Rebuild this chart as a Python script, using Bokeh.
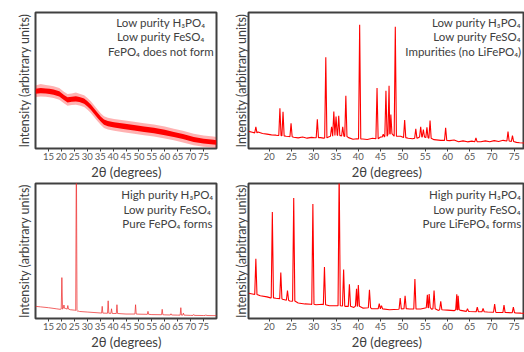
from bokeh.plotting import figure
from bokeh.layouts import column, row
from bokeh.models import FixedTicker, Label, Range1d
from bokeh.embed import file_html
from bokeh.resources import INLINE

# ---------------- data (2-theta in degrees, intensity in arbitrary units 0-100) ----------------
# Panel A: low purity H3PO4 + low purity FeSO4 -> amorphous (noise band)
a_x = [10, 12, 14, 15.4, 17, 19.2, 21, 22.4, 24, 25.6, 27, 28.8, 30, 31.4, 32.5, 34, 35.3,
       36.5, 38, 40.4, 44, 48.1, 52, 55.8, 60, 63.5, 67, 71.2, 75, 78.8, 80]
a_core_hi = [44.0, 44.4, 44.2, 43.9, 43.4, 42.1, 39.4, 37.7, 38.1, 38.4, 37.9, 36.7, 34.9, 32.3,
             29.7, 26.2, 23.4, 21.3, 20.2, 19.3, 18.3, 17.2, 16.2, 15.2, 13.8, 12.2, 10.7, 8.4,
             7.2, 6.4, 6.1]
a_core_lo = [40.2, 40.6, 40.4, 40.1, 39.6, 38.3, 35.6, 33.9, 34.3, 34.6, 34.1, 32.9, 31.1, 28.5,
             25.9, 22.4, 19.6, 17.5, 16.4, 15.5, 14.3, 13.2, 12.2, 11.2, 9.8, 8.4, 6.9, 4.8,
             3.6, 3.0, 2.7]
a_fringe_hi = [46.4, 47.5, 46.6, 46.3, 45.8, 44.5, 41.8, 40.1, 40.5, 41.2, 40.3, 39.1, 37.3, 34.7,
               32.1, 28.6, 25.8, 23.7, 22.6, 21.7, 20.7, 19.6, 18.6, 17.6, 16.2, 14.6, 13.1, 10.8,
               9.6, 8.8, 8.5]
a_fringe_lo = [37.8, 38.2, 38.0, 37.7, 37.2, 35.9, 33.2, 31.5, 31.9, 32.2, 31.7, 30.5, 28.7, 26.1,
               23.5, 20.0, 17.2, 15.1, 14.0, 13.1, 11.9, 10.8, 9.8, 8.8, 7.4, 6.0, 4.5, 2.4,
               1.2, 0.8, 0.6]

# Panel B: low purity H3PO4 + low purity FeSO4 -> impurities
b_base_x = [15.4, 16.2, 17.5, 18.5, 19.5, 20.5, 21.5, 22.0, 23.8, 24.5, 25.5, 26.5, 27.5, 28.5,
            29.5, 30.2, 31.5, 32.2, 33.3, 36.0, 37.8, 38.8, 39.7, 41.0, 42.0, 43.2, 45.0, 49.5,
            51.2, 52.2, 53.5, 57.0, 58.5, 60.5, 61.5, 62.5, 63.5, 64.5, 65.5, 67.5, 68.5, 69.5,
            70.5, 71.5, 72.5, 75.5, 76.2, 77.3]
b_base_y = [12.6, 12.0, 12.2, 11.0, 10.6, 10.0, 9.8, 9.5, 9.0, 8.8, 8.3, 7.8, 8.4, 7.6,
            8.2, 7.9, 8.0, 7.6, 8.5, 9.5, 8.0, 6.8, 7.2, 7.0, 6.6, 7.5, 8.5, 9.0,
            7.5, 7.2, 8.0, 6.5, 6.0, 5.8, 6.2, 5.0, 5.6, 4.9, 5.4, 5.0, 5.6, 5.0,
            5.8, 5.2, 6.0, 4.5, 4.2, 4.0]
b_peak_x = [17.0, 22.4, 23.1, 24.9, 30.8, 32.7, 34.0, 34.5, 35.0, 35.6, 36.5, 37.2, 40.3, 44.2,
            45.6, 46.2, 46.9, 47.3, 48.3, 50.4, 52.9, 54.0, 54.6, 55.4, 56.1, 59.6, 66.4, 73.6, 74.6]
b_peak_top = [16.0, 29.5, 27.0, 18.5, 21.5, 67.0, 16.0, 27.2, 23.5, 24.0, 16.0, 38.8, 91.0, 44.4,
              10.5, 42.5, 46.2, 25.0, 89.6, 21.0, 14.5, 16.0, 14.0, 15.5, 20.5, 15.3, 7.8, 12.4, 9.5]
b_peak_base = [11.5, 9.6, 9.3, 8.6, 8.0, 7.8, 9.0, 9.5, 10.0, 9.5, 9.2, 8.8, 7.0, 7.2,
               8.5, 9.0, 10.5, 11.0, 9.0, 8.0, 7.6, 8.5, 8.5, 8.0, 7.5, 6.0, 5.0, 5.5, 5.2]

# Panel C: high purity H3PO4 + low purity FeSO4 -> pure FePO4
c_base_x = [10, 12, 15, 18, 19.5, 21.5, 23.5, 25, 27, 30, 35, 40, 45, 50, 55, 60, 65, 70, 75, 80]
c_base_y = [9.0, 8.6, 8.0, 7.2, 6.8, 7.5, 6.5, 6.2, 5.2, 4.8, 4.1, 3.7, 3.3, 3.2, 2.9, 2.7,
            2.5, 2.3, 2.2, 2.1]
c_peak_x = [20.2, 21.0, 22.5, 25.8, 26.6, 35.8, 38.1, 39.4, 41.5, 48.7, 53.5, 59.0, 62.4, 66.2,
            67.2, 71.2, 75.9]
c_peak_top = [30.3, 10.0, 9.6, 130.0, 5.5, 9.0, 13.1, 7.2, 10.2, 10.2, 5.3, 6.8, 3.5, 8.0,
              4.0, 3.0, 2.8]
c_peak_base = [7.0, 7.5, 7.0, 6.0, 5.2, 4.0, 3.9, 3.8, 3.7, 3.3, 3.1, 2.8, 2.6, 2.5,
               2.5, 2.3, 2.2]

# Panel D: high purity H3PO4 + low purity FeSO4 -> pure LiFePO4
d_base_x = [15.4, 16.5, 18, 19.5, 20.3, 21.5, 23, 24.6, 25.2, 26.5, 28, 29.4, 30.5, 32, 33.5,
            35, 37, 39, 41, 43, 45, 47, 49, 51.5, 54, 56.5, 58, 60, 61.5, 63, 65, 67, 69, 71,
            73, 75.3, 76.5, 77.3]
d_base_y = [18.7, 18.0, 16.8, 16.0, 15.3, 15.0, 14.2, 13.0, 12.8, 11.5, 10.8, 10.5, 10.2, 10.5,
            9.4, 9.5, 9.0, 8.2, 7.7, 7.2, 7.0, 6.5, 6.8, 7.0, 7.0, 6.8, 6.0, 6.2, 5.8, 6.0,
            5.2, 5.0, 4.8, 4.5, 4.4, 4.2, 4.0, 3.9]
d_peak_x = [17.0, 20.7, 22.6, 24.1, 25.5, 29.8, 32.4, 35.7, 36.7, 38.0, 39.6, 40.0, 42.5, 44.7,
            45.2, 49.4, 50.5, 52.7, 55.5, 55.9, 57.0, 58.5, 62.1, 62.4, 64.5, 66.7, 68.0, 70.6,
            72.7, 74.8]
d_peak_top = [44.3, 78.8, 34.0, 20.7, 89.3, 84.9, 38.2, 110.0, 36.3, 25.3, 22.0, 24.8, 21.2, 11.0,
              9.5, 15.1, 16.8, 29.2, 17.5, 18.2, 20.7, 12.7, 18.0, 16.8, 7.2, 8.4, 7.5, 10.7,
              10.0, 8.4]
d_peak_base = [17.8, 15.3, 14.7, 13.5, 13.0, 10.5, 10.2, 9.5, 9.3, 9.0, 9.2, 9.0, 8.0, 7.2,
               7.1, 7.0, 7.3, 7.0, 8.0, 8.0, 7.2, 6.5, 6.5, 6.5, 5.3, 5.0, 5.0, 4.6, 4.4, 4.3]

left_ticks = [15, 20, 25, 30, 35, 40, 45, 50, 55, 60, 65, 70, 75]
right_ticks = [20, 25, 30, 35, 40, 45, 50, 55, 60, 65, 70, 75]

a_text = ["Low purity H\u2083PO\u2084", "Low purity FeSO\u2084", "FePO\u2084 does not form"]
b_text = ["Low purity H\u2083PO\u2084", "Low purity FeSO\u2084", "Impurities (no LiFePO\u2084)"]
c_text = ["High purity H\u2083PO\u2084", "Low purity FeSO\u2084", "Pure FePO\u2084 forms"]
d_text = ["High purity H\u2083PO\u2084", "Low purity FeSO\u2084", "Pure LiFePO\u2084 forms"]

x_title = "2\u03b8 (degrees)"
y_title = "Intensity (arbitrary units)"

FONT = "Lato"
DARK = "#404040"


def build_line(bx, by, px, ptop, pbase, w):
    pts = []
    for x, y in zip(bx, by):
        if all(abs(x - p) > w for p in px):
            pts.append((x, y))
    for p, t, b in zip(px, ptop, pbase):
        pts += [(p - w, b), (p, t), (p + w, b)]
    pts.sort()
    return [q[0] for q in pts], [q[1] for q in pts]


def make_fig(width, height, xr, ticks, mbl, mbr, mbt, mbb, ystand):
    p = figure(width=width, height=height, x_range=Range1d(*xr), y_range=Range1d(0, 100),
               output_backend="svg", toolbar_location=None,
               min_border_left=mbl, min_border_right=mbr, min_border_top=mbt,
               min_border_bottom=mbb)
    p.grid.visible = False
    p.background_fill_color = "white"
    p.border_fill_color = "white"
    p.outline_line_color = DARK
    p.outline_line_width = 2
    xa = p.xaxis[0]
    xa.ticker = FixedTicker(ticks=ticks)
    xa.axis_line_color = None
    xa.major_tick_in = 0
    xa.major_tick_out = 3
    xa.major_tick_line_color = DARK
    xa.minor_tick_line_color = None
    xa.major_label_text_font = FONT
    xa.major_label_text_font_size = "9.5px"
    xa.major_label_text_color = "#595959"
    xa.major_label_standoff = 1
    xa.axis_label = x_title
    xa.axis_label_text_font = FONT
    xa.axis_label_text_font_size = "13px"
    xa.axis_label_text_font_style = "normal"
    xa.axis_label_text_color = DARK
    xa.axis_label_standoff = 1
    ya = p.yaxis[0]
    ya.ticker = FixedTicker(ticks=[])
    ya.axis_line_color = None
    ya.major_tick_line_color = None
    ya.minor_tick_line_color = None
    ya.major_label_text_font_size = "0px"
    ya.axis_label = y_title
    ya.axis_label_text_font = FONT
    ya.axis_label_text_font_size = "12.5px"
    ya.axis_label_text_font_style = "normal"
    ya.axis_label_text_color = DARK
    ya.axis_label_standoff = ystand
    return p


def add_texts(p, lines, x, ys, align):
    for t, y in zip(lines, ys):
        p.add_layout(Label(x=x, y=y, text=t, text_align=align, text_baseline="middle",
                           text_font=FONT, text_font_size="11.5px", text_color=DARK))


LEFT_X = (10, 80)
RIGHT_X = (15.35, 77.3)
TOP_Y = [92.6, 82.4, 71.3]
BOT_Y = [91.5, 80.8, 70.4]

# Panel A
pa = make_fig(226, 182, LEFT_X, left_ticks, 35, 10, 12, 34, 4)
pa.varea(x=a_x, y1=a_fringe_lo, y2=a_fringe_hi, fill_color="#ff0000", fill_alpha=0.3)
pa.varea(x=a_x, y1=a_core_lo, y2=a_core_hi, fill_color="#ff0000", fill_alpha=1.0)
add_texts(pa, a_text, 58.5, TOP_Y, "center")

# Panel B
pb = make_fig(298, 182, RIGHT_X, right_ticks, 22, 0, 12, 34, 0)
bx, by = build_line(b_base_x, b_base_y, b_peak_x, b_peak_top, b_peak_base, 0.25)
pb.line(bx, by, line_color="#ff0000", line_width=1.1)
add_texts(pb, b_text, 76.55, TOP_Y, "right")

# Panel C
pc = make_fig(226, 170, LEFT_X, left_ticks, 35, 10, 1, 33, 4)
cx, cy = build_line(c_base_x, c_base_y, c_peak_x, c_peak_top, c_peak_base, 0.25)
pc.line(cx, cy, line_color="#ee3030", line_alpha=0.75, line_width=1)
add_texts(pc, c_text, 61.0, BOT_Y, "center")

# Panel D
pd_ = make_fig(298, 170, RIGHT_X, right_ticks, 22, 0, 1, 33, 0)
dx, dy = build_line(d_base_x, d_base_y, d_peak_x, d_peak_top, d_peak_base, 0.25)
pd_.line(dx, dy, line_color="#ff0000", line_width=1.1)
add_texts(pd_, d_text, 76.55, BOT_Y, "right")

layout = column(row(pa, pb), row(pc, pd_))

open("out.html", "w").write(file_html(layout, INLINE))
